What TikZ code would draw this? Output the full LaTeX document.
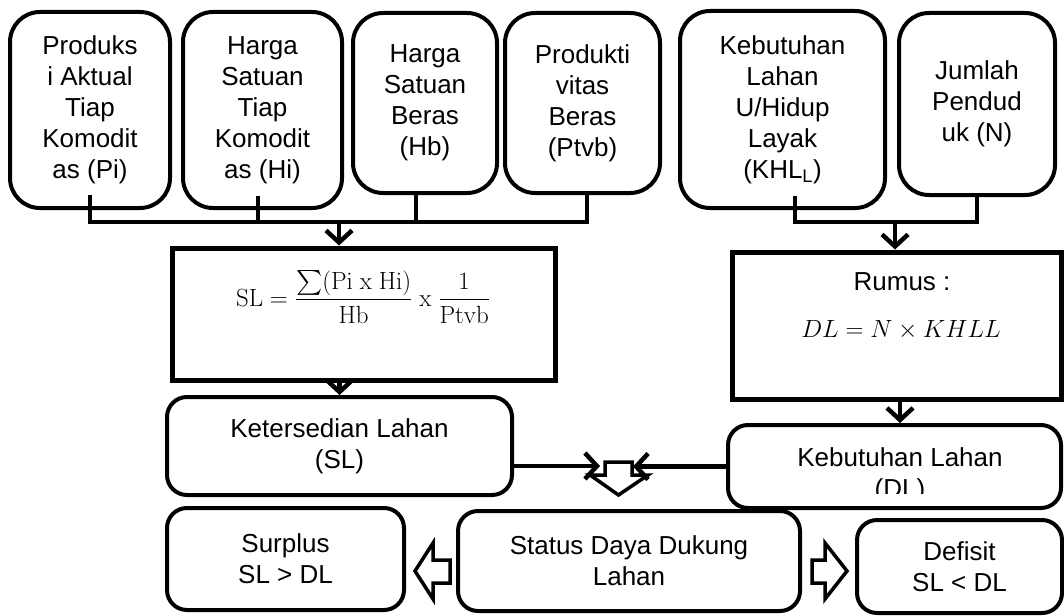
\documentclass[tikz,border=0pt]{standalone}
\usepackage{amsmath}
\usepackage[no-math]{fontspec}
\setmainfont{Liberation Sans}
\usetikzlibrary{arrows.meta}
\tikzset{
  tbox/.style={draw, line width=4pt, inner sep=0pt, align=center, font=\fontsize{26}{31}\selectfont},
  rbig/.style={tbox, rounded corners=30pt},
  rsmall/.style={tbox, rounded corners=20pt},
  sqbox/.style={draw, line width=5pt, inner sep=0pt},
  txt/.style={inner sep=0pt, align=center, font=\fontsize{26}{31}\selectfont},
  mathtxt/.style={inner sep=0pt, font=\fontsize{25}{30}\selectfont},
  conn/.style={line width=4pt},
  arr/.style={line width=4.5pt, -{Straight Barb[length=12pt,width=26pt]}},
  hollow/.style={draw, line width=3.5pt, fill=white, line join=miter},
}
\begin{document}
\begin{tikzpicture}[x=1pt,y=-1pt]
\useasboundingbox (0,0) rectangle (1064,615);

% top input boxes
\node[rbig, minimum width=160pt, minimum height=196pt] (b1) at (90,110)
  {Produks\\i Aktual\\Tiap\\Komodit\\as (Pi)};
\node[rbig, minimum width=159pt, minimum height=196pt] (b2) at (262.5,110)
  {Harga\\Satuan\\Tiap\\Komodit\\as (Hi)};
\node[rbig, minimum width=144pt, minimum height=180pt] (b3) at (425,103)
  {Harga\\Satuan\\Beras\\(Hb)};
\node[rbig, minimum width=155pt, minimum height=180pt] (b4) at (582.5,103)
  {Produkti\\vitas\\Beras\\(Ptvb)};
\node[rbig, minimum width=205pt, minimum height=197pt] (b5) at (782.5,109.5)
  {Kebutuhan\\Lahan\\U/Hidup\\Layak\\(KHL\textsubscript{L})};
\node[rbig, minimum width=156pt, minimum height=182pt] (b6) at (977,104)
  {Jumlah\\Pendud\\uk (N)};

% formula boxes
\node[sqbox, minimum width=383pt, minimum height=132pt] (slbox) at (363.5,314) {};
\node[mathtxt] (slf) at (363,297)
  {$\mathrm{SL} = \dfrac{\sum(\mathrm{Pi\ x\ Hi})}{\mathrm{Hb}}\ \mathrm{x}\ \dfrac{1}{\mathrm{Ptvb}}$};
\node[sqbox, minimum width=329pt, minimum height=147pt] (rumus) at (896.5,325.5) {};
\node[txt] (rumust) at (902,282) {Rumus :};
\node[mathtxt] (rumusf) at (901,330) {$DL = N \times KHLL$};

% result boxes
\node[rsmall, minimum width=345pt, minimum height=98pt] (kl) at (339.5,446)
  {Ketersedian Lahan\\(SL)};
\node[rsmall, minimum width=333pt, minimum height=83pt] (kdl) at (894.5,466.5) {};
\begin{scope}
  \clip (728,425) rectangle (1061,493);
  \node[txt] (kdlt) at (900,475) {Kebutuhan Lahan\\(DL)};
\end{scope}
\node[rsmall, minimum width=342pt, minimum height=100pt] (st) at (629,561)
  {Status Daya Dukung\\Lahan};
\node[rsmall, minimum width=237pt, minimum height=102pt] (su) at (285.5,559)
  {Surplus\\SL > DL};
\node[rsmall, minimum width=205pt, minimum height=93pt] (de) at (959.5,566.5)
  {Defisit\\SL < DL};

% left bus
\coordinate (busA) at (339,220);
\draw[conn] ([yshift=15pt]b1.south) -- ++(0,27) -| ([xshift=4.5pt]b4.south);
\draw[conn] ([xshift=-4.5pt,yshift=14pt]b2.south) -- ++(0,26);
\draw[conn] ([xshift=-9pt]b3.south) -- ++(0,27);
\draw[arr] (busA) -- (busA |- slbox.north);
\draw[arr] ([yshift=5pt]slbox.south -| kl.north) -- (kl.north);

% right bus
\coordinate (busB) at (895,220);
\draw[conn] ([xshift=12.5pt,yshift=14pt]b5.south) -- ++(0,26) -| (b6.south);
\draw[arr] (busB) -- (busB |- rumus.north);
\draw[arr] ([xshift=3.5pt]rumus.south) -- ([xshift=3.5pt]rumus.south |- kdl.north);

% arrows into the merge
\coordinate (hin1) at (600,466);
\coordinate (hin2) at (633,466.5);
\draw[arr] ([yshift=-20pt]kl.east) -- (hin1);
\draw[arr] (kdl.west) -- (hin2);

% hollow block arrows
\draw[hollow] (605,462) -- (632,462) -- (632,475) -- (648,475) -- (618.5,495)
  -- (590,475) -- (605,475) -- cycle;
\draw[hollow] (415,571) -- (433,543) -- (433,560) -- (450,560) -- (450,583)
  -- (433,583) -- (433,599) -- cycle;
\draw[hollow] (812,560) -- (825,560) -- (825,543) -- (847,571) -- (825,599)
  -- (825,583) -- (812,583) -- cycle;
\end{tikzpicture}
\end{document}
